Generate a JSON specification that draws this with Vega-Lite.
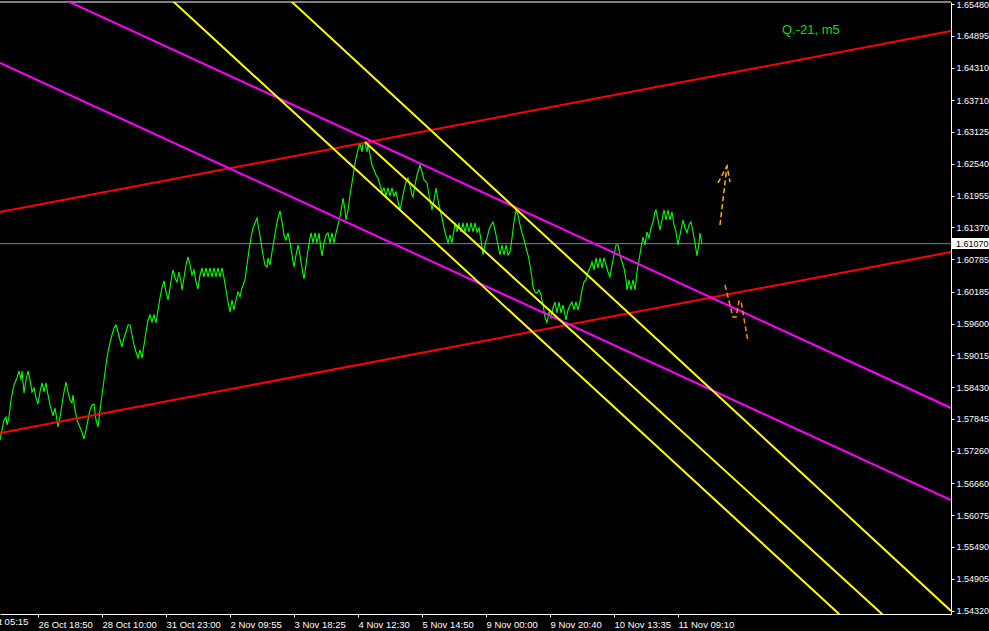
{
  "$schema": "https://vega.github.io/schema/vega-lite/v6.json",
  "width": 951,
  "height": 612,
  "autosize": "none",
  "padding": {"left": 0, "top": 2, "right": 38, "bottom": 17},
  "background": "#000000",
  "config": {
    "view": {"stroke": null},
    "axis": {"grid": false, "labelFont": "Liberation Sans", "labelFontSize": 9.5, "labelColor": "#FFFFFF", "domainColor": "#FFFFFF", "tickColor": "#FFFFFF"}
  },
  "datasets": {
    "price": [
      {"i":0,"p":1.57458},{"i":2,"p":1.57642},{"i":4,"p":1.57826},{"i":6,"p":1.57881},{"i":7,"p":1.57734},{"i":9,"p":1.57881},{"i":11,"p":1.58194},{"i":14,"p":1.58470},{"i":17,"p":1.58599},{"i":19,"p":1.58728},{"i":21,"p":1.58562},{"i":22,"p":1.58728},{"i":24,"p":1.58323},{"i":26,"p":1.58562},{"i":28,"p":1.58728},{"i":30,"p":1.58562},{"i":32,"p":1.58341},{"i":34,"p":1.58415},{"i":36,"p":1.58231},{"i":38,"p":1.58120},{"i":40,"p":1.58341},{"i":42,"p":1.58507},{"i":44,"p":1.58341},{"i":46,"p":1.58507},{"i":48,"p":1.58286},{"i":50,"p":1.58102},{"i":52,"p":1.57973},{"i":53,"p":1.57900},{"i":55,"p":1.58047},{"i":57,"p":1.57826},{"i":58,"p":1.57697},{"i":60,"p":1.57863},{"i":62,"p":1.58120},{"i":64,"p":1.58341},{"i":66,"p":1.58525},{"i":68,"p":1.58341},{"i":70,"p":1.58194},{"i":72,"p":1.58139},{"i":73,"p":1.58286},{"i":75,"p":1.58010},{"i":77,"p":1.57826},{"i":79,"p":1.57734},{"i":81,"p":1.57642},{"i":82,"p":1.57605},{"i":84,"p":1.57476},{"i":86,"p":1.57642},{"i":88,"p":1.57826},{"i":90,"p":1.58010},{"i":92,"p":1.58102},{"i":94,"p":1.58120},{"i":96,"p":1.57826},{"i":98,"p":1.57697},{"i":100,"p":1.58010},{"i":102,"p":1.58286},{"i":104,"p":1.58562},{"i":106,"p":1.58838},{"i":108,"p":1.59077},{"i":110,"p":1.59243},{"i":112,"p":1.59390},{"i":114,"p":1.59519},{"i":116,"p":1.59574},{"i":118,"p":1.59445},{"i":120,"p":1.59298},{"i":122,"p":1.59169},{"i":124,"p":1.59335},{"i":126,"p":1.59445},{"i":128,"p":1.59574},{"i":130,"p":1.59574},{"i":132,"p":1.59390},{"i":134,"p":1.59206},{"i":136,"p":1.59077},{"i":138,"p":1.58967},{"i":140,"p":1.59114},{"i":142,"p":1.58967},{"i":144,"p":1.59206},{"i":146,"p":1.59445},{"i":148,"p":1.59666},{"i":150,"p":1.59758},{"i":152,"p":1.59629},{"i":154,"p":1.59758},{"i":156,"p":1.59611},{"i":158,"p":1.59850},{"i":160,"p":1.60071},{"i":162,"p":1.60255},{"i":164,"p":1.60384},{"i":166,"p":1.60181},{"i":168,"p":1.60034},{"i":170,"p":1.60255},{"i":172,"p":1.60494},{"i":173,"p":1.60586},{"i":175,"p":1.60439},{"i":177,"p":1.60365},{"i":179,"p":1.60549},{"i":181,"p":1.60365},{"i":182,"p":1.60218},{"i":184,"p":1.60439},{"i":186,"p":1.60678},{"i":188,"p":1.60825},{"i":190,"p":1.60678},{"i":192,"p":1.60494},{"i":194,"p":1.60586},{"i":196,"p":1.60365},{"i":198,"p":1.60236},{"i":200,"p":1.60494},{"i":202,"p":1.60623},{"i":204,"p":1.60457},{"i":206,"p":1.60623},{"i":208,"p":1.60457},{"i":210,"p":1.60623},{"i":212,"p":1.60457},{"i":214,"p":1.60623},{"i":216,"p":1.60457},{"i":218,"p":1.60623},{"i":220,"p":1.60457},{"i":222,"p":1.60623},{"i":224,"p":1.60439},{"i":226,"p":1.60218},{"i":228,"p":1.59997},{"i":230,"p":1.59813},{"i":232,"p":1.60034},{"i":234,"p":1.59850},{"i":236,"p":1.60034},{"i":238,"p":1.60181},{"i":240,"p":1.60089},{"i":242,"p":1.60255},{"i":245,"p":1.60402},{"i":247,"p":1.60678},{"i":249,"p":1.60954},{"i":251,"p":1.61175},{"i":253,"p":1.61359},{"i":255,"p":1.61451},{"i":257,"p":1.61543},{"i":259,"p":1.61322},{"i":261,"p":1.61101},{"i":263,"p":1.60862},{"i":265,"p":1.60678},{"i":267,"p":1.60641},{"i":268,"p":1.60807},{"i":270,"p":1.60678},{"i":272,"p":1.60917},{"i":274,"p":1.61138},{"i":276,"p":1.61359},{"i":278,"p":1.61543},{"i":280,"p":1.61672},{"i":282,"p":1.61469},{"i":284,"p":1.61230},{"i":286,"p":1.61138},{"i":288,"p":1.61267},{"i":290,"p":1.61083},{"i":292,"p":1.60862},{"i":294,"p":1.60641},{"i":296,"p":1.60862},{"i":298,"p":1.61046},{"i":300,"p":1.60862},{"i":302,"p":1.60623},{"i":304,"p":1.60420},{"i":306,"p":1.60678},{"i":308,"p":1.60954},{"i":310,"p":1.61175},{"i":311,"p":1.61267},{"i":313,"p":1.61083},{"i":315,"p":1.61267},{"i":317,"p":1.61083},{"i":319,"p":1.61267},{"i":321,"p":1.60954},{"i":322,"p":1.60844},{"i":324,"p":1.61083},{"i":326,"p":1.61230},{"i":328,"p":1.61267},{"i":330,"p":1.61083},{"i":332,"p":1.61267},{"i":334,"p":1.61083},{"i":336,"p":1.61267},{"i":338,"p":1.61414},{"i":340,"p":1.61561},{"i":342,"p":1.61782},{"i":343,"p":1.61911},{"i":345,"p":1.61690},{"i":346,"p":1.61506},{"i":348,"p":1.61690},{"i":350,"p":1.61966},{"i":352,"p":1.62187},{"i":354,"p":1.62426},{"i":356,"p":1.62647},{"i":358,"p":1.62794},{"i":360,"p":1.62923},{"i":362,"p":1.62757},{"i":363,"p":1.62923},{"i":365,"p":1.62923},{"i":367,"p":1.62757},{"i":368,"p":1.62923},{"i":370,"p":1.62702},{"i":372,"p":1.62518},{"i":374,"p":1.62426},{"i":376,"p":1.62334},{"i":378,"p":1.62279},{"i":380,"p":1.62150},{"i":382,"p":1.62021},{"i":384,"p":1.62095},{"i":386,"p":1.61948},{"i":388,"p":1.62095},{"i":390,"p":1.61948},{"i":392,"p":1.62095},{"i":394,"p":1.61948},{"i":396,"p":1.62021},{"i":398,"p":1.61837},{"i":400,"p":1.61690},{"i":402,"p":1.61874},{"i":404,"p":1.62058},{"i":406,"p":1.62205},{"i":408,"p":1.62279},{"i":410,"p":1.62132},{"i":412,"p":1.61966},{"i":413,"p":1.61929},{"i":415,"p":1.62150},{"i":417,"p":1.62334},{"i":420,"p":1.62518},{"i":422,"p":1.62389},{"i":424,"p":1.62242},{"i":427,"p":1.62187},{"i":429,"p":1.61966},{"i":432,"p":1.61690},{"i":434,"p":1.61874},{"i":436,"p":1.62095},{"i":438,"p":1.61874},{"i":440,"p":1.61690},{"i":442,"p":1.61543},{"i":444,"p":1.61359},{"i":446,"p":1.61212},{"i":448,"p":1.61083},{"i":450,"p":1.61230},{"i":452,"p":1.61083},{"i":454,"p":1.61322},{"i":455,"p":1.61451},{"i":457,"p":1.61285},{"i":459,"p":1.61451},{"i":461,"p":1.61285},{"i":463,"p":1.61451},{"i":465,"p":1.61285},{"i":467,"p":1.61451},{"i":469,"p":1.61285},{"i":471,"p":1.61451},{"i":473,"p":1.61285},{"i":475,"p":1.61451},{"i":477,"p":1.61285},{"i":479,"p":1.61359},{"i":481,"p":1.61138},{"i":483,"p":1.60862},{"i":485,"p":1.61046},{"i":487,"p":1.61175},{"i":489,"p":1.61322},{"i":491,"p":1.61414},{"i":493,"p":1.61469},{"i":495,"p":1.61322},{"i":497,"p":1.61138},{"i":499,"p":1.60954},{"i":500,"p":1.60862},{"i":502,"p":1.61046},{"i":504,"p":1.60862},{"i":506,"p":1.61046},{"i":508,"p":1.60862},{"i":510,"p":1.60917},{"i":512,"p":1.61175},{"i":514,"p":1.61469},{"i":516,"p":1.61690},{"i":518,"p":1.61598},{"i":520,"p":1.61414},{"i":522,"p":1.61267},{"i":524,"p":1.61138},{"i":526,"p":1.60991},{"i":528,"p":1.60862},{"i":530,"p":1.60678},{"i":532,"p":1.60439},{"i":533,"p":1.60273},{"i":535,"p":1.60181},{"i":537,"p":1.60163},{"i":539,"p":1.60218},{"i":541,"p":1.60126},{"i":543,"p":1.59942},{"i":545,"p":1.59721},{"i":547,"p":1.59611},{"i":549,"p":1.59813},{"i":551,"p":1.59703},{"i":553,"p":1.59887},{"i":555,"p":1.59997},{"i":557,"p":1.59795},{"i":559,"p":1.59997},{"i":561,"p":1.59795},{"i":563,"p":1.59942},{"i":565,"p":1.59758},{"i":566,"p":1.59666},{"i":568,"p":1.59850},{"i":570,"p":1.59942},{"i":572,"p":1.59997},{"i":574,"p":1.59850},{"i":576,"p":1.59997},{"i":578,"p":1.59850},{"i":580,"p":1.59997},{"i":582,"p":1.60218},{"i":584,"p":1.60365},{"i":586,"p":1.60402},{"i":588,"p":1.60549},{"i":590,"p":1.60623},{"i":592,"p":1.60733},{"i":594,"p":1.60586},{"i":596,"p":1.60807},{"i":598,"p":1.60623},{"i":600,"p":1.60807},{"i":602,"p":1.60623},{"i":604,"p":1.60807},{"i":606,"p":1.60678},{"i":608,"p":1.60549},{"i":610,"p":1.60457},{"i":612,"p":1.60678},{"i":614,"p":1.60862},{"i":616,"p":1.61046},{"i":618,"p":1.61046},{"i":620,"p":1.60862},{"i":622,"p":1.60733},{"i":624,"p":1.60623},{"i":626,"p":1.60402},{"i":627,"p":1.60218},{"i":629,"p":1.60402},{"i":631,"p":1.60218},{"i":633,"p":1.60402},{"i":635,"p":1.60218},{"i":637,"p":1.60549},{"i":639,"p":1.60770},{"i":641,"p":1.60991},{"i":643,"p":1.61193},{"i":645,"p":1.61046},{"i":647,"p":1.61285},{"i":649,"p":1.61175},{"i":651,"p":1.61359},{"i":653,"p":1.61469},{"i":655,"p":1.61653},{"i":656,"p":1.61690},{"i":658,"p":1.61506},{"i":660,"p":1.61322},{"i":662,"p":1.61506},{"i":664,"p":1.61690},{"i":666,"p":1.61506},{"i":668,"p":1.61690},{"i":670,"p":1.61506},{"i":672,"p":1.61653},{"i":674,"p":1.61414},{"i":676,"p":1.61285},{"i":678,"p":1.61046},{"i":680,"p":1.61230},{"i":682,"p":1.61414},{"i":683,"p":1.61506},{"i":685,"p":1.61359},{"i":687,"p":1.61267},{"i":689,"p":1.61414},{"i":691,"p":1.61469},{"i":693,"p":1.61285},{"i":695,"p":1.61083},{"i":697,"p":1.60844},{"i":699,"p":1.61083},{"i":700,"p":1.61267},{"i":702,"p":1.61064}
    ],
    "lines": [
      {"id":"r1","c":"r","i":0,"p":1.61653},{"id":"r1","c":"r","i":951,"p":1.64984},
      {"id":"r2","c":"r","i":0,"p":1.57587},{"id":"r2","c":"r","i":951,"p":1.60917},
      {"id":"m1","c":"m","i":0,"p":1.66106},{"id":"m1","c":"m","i":951,"p":1.58047},
      {"id":"m2","c":"m","i":0,"p":1.64395},{"id":"m2","c":"m","i":951,"p":1.56354},
      {"id":"y1","c":"y","i":100,"p":1.66768},{"id":"y1","c":"y","i":951,"p":1.52361},
      {"id":"y2","c":"y","i":200,"p":1.67081},{"id":"y2","c":"y","i":951,"p":1.54312},
      {"id":"y3","c":"y","i":365,"p":1.62941},{"id":"y3","c":"y","i":951,"p":1.53097}
    ],
    "up": [
      {"id":"a1","i":720,"p":1.61414},{"id":"a1","i":727,"p":1.62500},
      {"id":"a2","i":718,"p":1.62187},{"id":"a2","i":727,"p":1.62500},{"id":"a2","i":730,"p":1.62205}
    ],
    "down": [
      {"id":"a3","i":725,"p":1.60310},{"id":"a3","i":733,"p":1.59721},{"id":"a3","i":736,"p":1.59721},{"id":"a3","i":739,"p":1.60016},{"id":"a3","i":741,"p":1.60016},{"id":"a3","i":748,"p":1.59261}
    ]
  },
  "encoding": {
    "x": {"field": "i", "type": "quantitative", "title": null,
      "scale": {"domain": [0, 951], "nice": false, "zero": false},
      "axis": {"orient": "bottom", "values": [38, 102, 166, 230, 294, 358, 422, 486, 550, 614, 678],
        "labelExpr": "['26 Oct 18:50','28 Oct 10:00','31 Oct 23:00','2 Nov 09:55','3 Nov 18:25','4 Nov 12:30','5 Nov 14:50','9 Nov 00:00','9 Nov 20:40','10 Nov 13:35','11 Nov 09:10'][round((datum.value - 38) / 64)]",
        "labelAlign": "left", "labelFlush": false, "labelOverlap": false, "labelBound": false, "tickSize": 3, "labelPadding": 2}},
    "y": {"field": "p", "type": "quantitative", "title": null,
      "scale": {"domain": [1.54256, 1.65517], "nice": false, "zero": false},
      "axis": {"orient": "right", "values": [1.6548, 1.64895, 1.6431, 1.6371, 1.63125, 1.6254, 1.61955, 1.6137, 1.60785, 1.60185, 1.596, 1.59015, 1.5843, 1.57845, 1.5726, 1.5666, 1.56075, 1.5549, 1.54905, 1.5432],
        "format": ".5f", "labelAlign": "left", "labelFontSize": 9, "labelFlush": false, "labelOverlap": false, "labelBound": false, "tickSize": 3, "labelPadding": 2}}
  },
  "layer": [
    {
      "data": {"values": [{"i": 0, "p": 1.6107}, {"i": 951, "p": 1.6107}]},
      "mark": {"type": "line", "color": "#778899", "strokeWidth": 1}
    },
    {
      "data": {"values": [{"i": 0, "p": 1.65517}, {"i": 951, "p": 1.65517}]},
      "mark": {"type": "line", "color": "#FFFFFF", "strokeWidth": 1}
    },
    {
      "data": {"name": "price"},
      "mark": {"type": "line", "color": "#00FF00", "strokeWidth": 1.1, "clip": true}
    },
    {
      "data": {"name": "lines"},
      "mark": {"type": "line", "strokeWidth": 2, "clip": true},
      "encoding": {
        "color": {"field": "c", "type": "nominal", "scale": {"domain": ["r", "m", "y"], "range": ["#FF0000", "#FF00FF", "#FFFF00"]}, "legend": null},
        "detail": {"field": "id"}
      }
    },
    {
      "data": {"name": "up"},
      "mark": {"type": "line", "strokeWidth": 1.5, "color": "#FFB400", "strokeDash": [5, 3], "clip": true},
      "encoding": {"detail": {"field": "id"}}
    },
    {
      "data": {"name": "down"},
      "mark": {"type": "line", "strokeWidth": 1.5, "color": "#FF8C00", "strokeDash": [5, 3], "clip": true},
      "encoding": {"detail": {"field": "id"}}
    },
    {
      "data": {"values": [{"i": 952, "i2": 990, "p": 1.61175, "p2": 1.60972}]},
      "mark": {"type": "rect", "color": "#FFFFFF"},
      "encoding": {"x2": {"field": "i2"}, "y2": {"field": "p2"}}
    },
    {
      "data": {"values": [{"i": 956, "p": 1.6107, "t": "1.61070"}]},
      "mark": {"type": "text", "color": "#000000", "font": "Liberation Sans", "fontSize": 9, "align": "left", "baseline": "middle"},
      "encoding": {"text": {"field": "t"}}
    },
    {
      "data": {"values": [{"i": -26, "p": 1.54115, "t": "25 Oct 05:15"}]},
      "mark": {"type": "text", "color": "#FFFFFF", "font": "Liberation Sans", "fontSize": 9.5, "align": "left", "baseline": "middle"},
      "encoding": {"text": {"field": "t"}}
    },
    {
      "data": {"values": [{"i": 782, "p": 1.65002, "t": "Q.-21, m5"}]},
      "mark": {"type": "text", "color": "#00DD00", "font": "Liberation Sans", "fontSize": 13, "align": "left", "baseline": "middle"},
      "encoding": {"text": {"field": "t"}}
    }
  ]
}
